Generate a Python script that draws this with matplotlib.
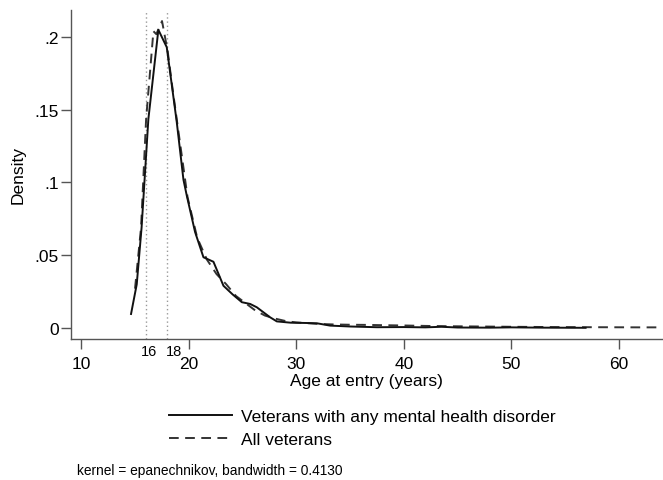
import matplotlib
matplotlib.use("Agg")
import matplotlib.pyplot as plt

plt.rcParams['font.family'] = ['Liberation Sans', 'DejaVu Sans']

# Veterans with any mental health disorder (solid)
mh_age = [14.65, 15.18, 15.63, 16.26, 17.19, 17.97, 18.9, 19.52, 19.83, 20.6, 21.38,
          22.31, 23.24, 24.1, 24.95, 25.72, 26.34, 27.58, 28.2, 29.5, 31.0, 31.93,
          33.16, 35.0, 37.5, 40.0, 42.0, 43.5, 45.0, 48.0, 50.0, 53.0, 56.9]
mh_den = [0.0096, 0.030, 0.069, 0.1435, 0.205, 0.193, 0.1415, 0.102, 0.091, 0.066, 0.0486,
          0.0455, 0.029, 0.023, 0.0177, 0.0165, 0.0142, 0.0073, 0.0045, 0.0036, 0.0034, 0.0032,
          0.0016, 0.0010, 0.0005, 0.0006, 0.0004, 0.0008, 0.0003, 0.0002, 0.0004, 0.0002, 0.0001]

# All veterans (dashed)
all_age = [15.02, 15.58, 16.05, 16.73, 17.0, 17.53, 18.06, 18.5, 19.0, 19.9, 20.8, 21.7,
           22.6, 23.5, 24.4, 25.3, 26.2, 27.1, 28.0, 29.1, 30.0, 31.0, 32.0, 33.5, 35.0,
           36.6, 38.0, 40.0, 42.0, 44.0, 47.0, 50.0, 54.0, 58.0, 62.0, 64.0]
all_den = [0.027, 0.069, 0.1435, 0.204, 0.202, 0.211, 0.19, 0.165, 0.138, 0.09, 0.062, 0.047,
           0.037, 0.030, 0.022, 0.017, 0.012, 0.0085, 0.0065, 0.0046, 0.0038, 0.0033, 0.0028,
           0.0024, 0.0022, 0.0021, 0.0019, 0.0017, 0.0014, 0.0012, 0.0010, 0.0008, 0.0006,
           0.0005, 0.0004, 0.0004]

x_ticks = [10, 20, 30, 40, 50, 60]
y_ticks = [0, 0.05, 0.1, 0.15, 0.2]
y_labels = ['0', '.05', '.1', '.15', '.2']
ref_ages = [16, 18]
labels = ['Veterans with any mental health disorder', 'All veterans']
note = 'kernel = epanechnikov, bandwidth = 0.4130'

W, H = 663, 481
fig = plt.figure(figsize=(W / 100, H / 100), dpi=100)
ax = fig.add_axes([71 / W, 1 - 340 / H, (662 - 71) / W, (340 - 11) / H])

for a in ref_ages:
    ax.axvline(a, color='#999999', lw=1.0, ls=(0, (1, 2)), zorder=1)

l1, = ax.plot(mh_age, mh_den, color='#111111', lw=1.4, zorder=3)
l2, = ax.plot(all_age, all_den, color='#333333', lw=1.4, ls=(0, (5, 3.3)), zorder=2)

ax.set_xlim(9.07, 64.0)
ax.set_ylim(-0.0076, 0.2186)
ax.set_xticks(x_ticks)
ax.set_yticks(y_ticks)
ax.set_yticklabels(y_labels)
for s in ['top', 'right']:
    ax.spines[s].set_visible(False)
for s in ['left', 'bottom']:
    ax.spines[s].set_color('#555555')
    ax.spines[s].set_linewidth(1.0)
ax.tick_params(axis='both', colors='#555555', labelcolor='black', labelsize=12.5, length=7, width=1.0)
ax.tick_params(axis='y', pad=2)
ax.tick_params(axis='x', pad=5)

for a in ref_ages:
    ax.annotate(str(a), xy=(a, 0), xycoords=('data', 'axes fraction'),
                xytext=(3 if a == 16 else 7, -12), textcoords='offset pixels',
                ha='center', va='center', fontsize=10.5)

ax.set_xlabel('Age at entry (years)', fontsize=12.5, labelpad=1.5)
ax.set_ylabel('Density', fontsize=12.5, labelpad=6)

fig.legend([l1, l2], labels, loc='upper left', bbox_to_anchor=(157 / W, 1 - 398 / H),
           frameon=False, fontsize=12.5, handlelength=3.6, handletextpad=0.55,
           labelspacing=0.45, borderpad=0.2)

fig.text(77 / W, 1 - 471 / H, note, fontsize=9.9, va='center', ha='left')

fig.savefig('out.png', dpi=100)
